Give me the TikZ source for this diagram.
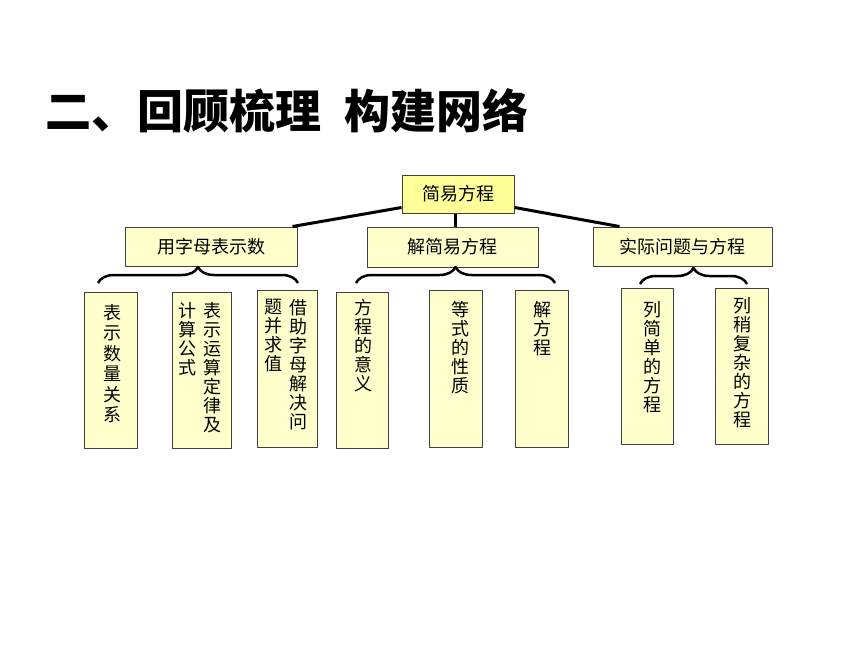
\documentclass[tikz,border=0pt]{standalone}
\usepackage{fontspec}
\setmainfont{Noto Sans CJK SC}
\usetikzlibrary{calc,decorations.pathreplacing}
\definecolor{paleyellow}{HTML}{FFFFCC}
\definecolor{lemon}{HTML}{FFFF99}
\definecolor{edgegray}{HTML}{404040}
\begin{document}
\begin{tikzpicture}[x=1pt, y=-1pt, line join=round,
		box/.style={draw=edgegray, line width=1pt, fill=paleyellow, inner sep=0pt, font=\fontsize{18}{20}\selectfont},
		topbox/.style={box, fill=lemon},
		leaf/.style={draw=edgegray, line width=1pt, fill=paleyellow, inner sep=0pt},
		vtext/.style={anchor=north, inner sep=0pt, align=center, font=\fontsize{18}{19}\selectfont},
		trunk/.style={line width=3pt},
		bracket/.style={line width=2.5pt, decorate, decoration={brace, amplitude=16pt}}]
	\fill[white] (0,0) rectangle (860,645);
	\useasboundingbox (0,0) rectangle (860,645);
	% title
	\node[anchor=west, inner sep=0pt, font=\fontsize{46}{48}\selectfont\bfseries] (title) at (45,111) {二、回顾梳理\hspace{0.5em}构建网络};
	% top levels
	\node[topbox, minimum width=112pt, minimum height=38pt] (top) at (458,194) {简易方程};
	\node[box, minimum width=172pt, minimum height=39pt] (a) at (211,246.5) {用字母表示数};
	\node[box, minimum width=171pt, minimum height=40pt] (b) at (452.5,247) {解简易方程};
	\node[box, minimum width=179pt, minimum height=39pt] (c) at (682.5,246.5) {实际问题与方程};
	\draw[trunk] ($(top.south west)+(0,-6)$) -- ($(a.north east)+(-5,0)$);
	\draw[trunk] (top.south -| 455,0) -- (b.north -| 455,0);
	\draw[trunk] ($(top.south east)+(0,-6)$) -- ($(c.north west)+(27,0)$);
	% leaves
	\node[leaf, minimum width=53pt, minimum height=156pt] (l1) at (110.5,370) {};
	\node[leaf, minimum width=59pt, minimum height=156pt] (l2) at (201.5,370) {};
	\node[leaf, minimum width=60pt, minimum height=157pt] (l3) at (287,368.5) {};
	\node[leaf, minimum width=52pt, minimum height=156pt] (l4) at (362,370) {};
	\node[leaf, minimum width=53pt, minimum height=157pt] (l5) at (455.5,368.5) {};
	\node[leaf, minimum width=53pt, minimum height=157pt] (l6) at (541.5,368.5) {};
	\node[leaf, minimum width=52pt, minimum height=156pt] (l7) at (647,366) {};
	\node[leaf, minimum width=53pt, minimum height=156pt] (l8) at (741.5,366) {};
	\node[vtext, font=\fontsize{18}{20.5}\selectfont] (t1) at (112,304) {表\\示\\数\\量\\关\\系};
	\node[vtext] (t2r) at (212,302) {表\\示\\运\\算\\定\\律\\及};
	\node[vtext] (t2l) at (187,302) {计\\算\\公\\式};
	\node[vtext] (t3r) at (298,299) {借\\助\\字\\母\\解\\决\\问};
	\node[vtext] (t3l) at (273,299) {题\\并\\求\\值};
	\node[vtext] (t4) at (363,299) {方\\程\\的\\意\\义};
	\node[vtext] (t5) at (460,301) {等\\式\\的\\性\\质};
	\node[vtext] (t6) at (542,301) {解\\方\\程};
	\node[vtext] (t7) at (652,301) {列\\简\\单\\的\\方\\程};
	\node[vtext] (t8) at (742,297) {列\\稍\\复\\杂\\的\\方\\程};
	% braces
	\coordinate (b1l) at (98,283);  \coordinate (b1r) at (298,283);
	\coordinate (b2l) at (356,283); \coordinate (b2r) at (555,283);
	\coordinate (b3l) at (640,284); \coordinate (b3r) at (747,284);
	\draw[bracket] (b1l) -- (b1r);
	\draw[bracket] (b2l) -- (b2r);
	\draw[bracket] (b3l) -- (b3r);
\end{tikzpicture}
\end{document}
